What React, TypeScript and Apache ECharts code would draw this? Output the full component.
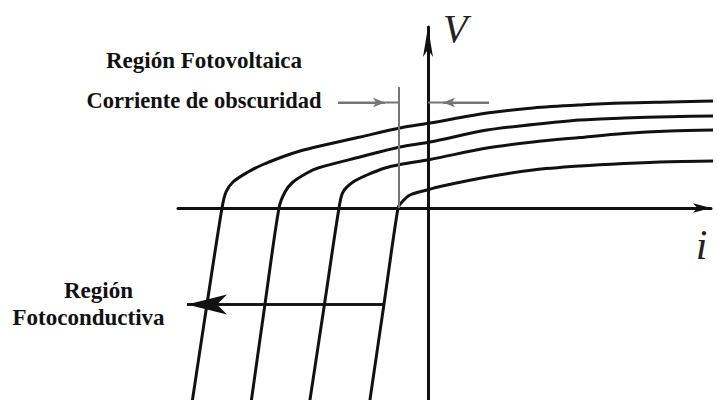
import { useEffect, useRef } from "react";
import * as echarts from "echarts";

// Photodiode i–V family of curves (arbitrary units: i horizontal, V vertical).
// Each curve: steep photoconductive branch below the i axis, knee, then the
// slowly rising photovoltaic branch.
const curveA: [number, number][] = [
  [-23.6, -19.5], [-22.1, -9.6], [-20.6, 0], [-20.2, 1.6], [-19.5, 2.6], [-18.0, 3.6],
  [-16.6, 4.3], [-14.6, 5.1], [-12.8, 5.7], [-10.8, 6.2], [-6.8, 7.1], [-2.8, 8.0],
  [0.2, 8.5], [5.9, 9.5], [10.5, 10.0], [15.2, 10.3], [19.6, 10.5], [24.2, 10.6], [28.9, 10.7],
];
const curveB: [number, number][] = [
  [-17.7, -19.5], [-16.3, -9.6], [-14.9, 0], [-14.3, 1.6], [-13.5, 2.6], [-12.1, 3.5],
  [-11.0, 4.0], [-6.8, 5.1], [-2.8, 6.1], [0.2, 6.6], [5.9, 7.8], [10.5, 8.35],
  [15.2, 8.8], [19.6, 9.0], [24.2, 9.13], [28.9, 9.2],
];
const curveC: [number, number][] = [
  [-11.85, -19.5], [-10.35, -9.6], [-8.9, 0], [-8.5, 1.6], [-7.5, 2.6], [-6.1, 3.3],
  [-4.3, 4.0], [-2.8, 4.35], [0.2, 4.85], [5.9, 6.0], [10.5, 6.6], [15.2, 7.05],
  [19.6, 7.45], [24.2, 7.7], [28.9, 7.8],
];
const curveD: [number, number][] = [
  [-5.85, -19.5], [-4.4, -9.6], [-3.0, 0], [-2.7, 0.5], [-1.8, 1.3], [-0.1, 1.8],
  [1.2, 2.15], [5.9, 3.1], [10.5, 3.8], [15.2, 4.2], [19.6, 4.45], [24.2, 4.63], [28.9, 4.7],
];

// Dark-current marker: vertical reference line and the two pointing arrows
const darkLine: [number, number][] = [[-2.9, 12.1], [-2.9, 0]];
const darkArrowLeft: [number, number][] = [[-9.0, 10.55], [-2.9, 10.55]];
const darkArrowLeftHead: [number, number] = [-4.3, 10.55];
const darkArrowRight: [number, number][] = [[6.1, 10.55], [0, 10.55]];
const darkArrowRightHead: [number, number] = [1.5, 10.55];

// Photoconductive-region arrow (tail, tip)
const photoArrow: [number, number][] = [[-4.5, -9.65], [-24.1, -9.65]];

// Axis ranges
const xRange: [number, number] = [-25, 28.3];
const yRange: [number, number] = [-19.2, 18.1];

const labelVoltaic = "Región Fotovoltaica";
const labelDark = "Corriente de obscuridad";
const labelConductive1 = "Región";
const labelConductive2 = "Fotoconductiva";
const axisNameV = "V";
const axisNameI = "i";

const INK = "#111";
const GREY = "#767676";
const SERIF = "Liberation Serif";

const curveSeries = (name: string, data: [number, number][]) => ({
  name,
  type: "line",
  data,
  smooth: 0.3,
  showSymbol: false,
  symbol: "none",
  clip: false,
  silent: true,
  lineStyle: { color: INK, width: 3 },
});

const arrowSeries = (
  name: string,
  data: [number, number][],
  head: [number, number],
  color: string,
  width: number,
  size: [number, number]
) => ({
  name,
  type: "line",
  data,
  symbol: "none",
  showSymbol: false,
  silent: true,
  clip: false,
  lineStyle: { color, width },
  markLine: {
    silent: true,
    symbol: ["none", "arrow"],
    symbolSize: size,
    label: { show: false },
    lineStyle: { color, width, type: "solid" },
    emphasis: { disabled: true },
    data: [[{ coord: data[0] }, { coord: head }]],
  },
});

const axisCommon = {
  type: "value",
  axisTick: { show: false },
  axisLabel: { show: false },
  splitLine: { show: false },
};

const boldLabel = (text: string, x: number, y: number, size: number) => ({
  type: "text",
  x,
  y,
  style: {
    text,
    fontFamily: SERIF,
    fontWeight: "bold",
    fontSize: size,
    fill: INK,
    align: "center",
    verticalAlign: "middle",
  },
});

const option = {
  animation: false,
  backgroundColor: "#fff",
  grid: { left: 178, right: 6, top: 27, bottom: 0 },
  xAxis: {
    ...axisCommon,
    min: xRange[0],
    max: xRange[1],
    axisLine: {
      onZero: true,
      symbol: ["none", "arrow"],
      symbolSize: [7, 18],
      lineStyle: { color: INK, width: 3 },
    },
  },
  yAxis: {
    ...axisCommon,
    min: yRange[0],
    max: yRange[1],
    axisLine: {
      onZero: true,
      symbol: ["none", "arrow"],
      symbolSize: [7.5, 30],
      lineStyle: { color: INK, width: 3 },
    },
  },
  series: [
    curveSeries("A", curveA),
    curveSeries("B", curveB),
    curveSeries("C", curveC),
    curveSeries("D", curveD),
    {
      name: "dark",
      type: "line",
      data: darkLine,
      symbol: "none",
      silent: true,
      lineStyle: { color: GREY, width: 2 },
    },
    arrowSeries("darkL", darkArrowLeft, darkArrowLeftHead, GREY, 2, [7, 12]),
    arrowSeries("darkR", darkArrowRight, darkArrowRightHead, GREY, 2, [7, 12]),
    arrowSeries("photo", photoArrow, photoArrow[1], INK, 2.5, [15, 40]),
  ],
  graphic: [
    boldLabel(labelVoltaic, 204, 60, 23),
    boldLabel(labelDark, 204, 100, 22.5),
    boldLabel(labelConductive1, 98.5, 290, 23),
    boldLabel(labelConductive2, 88.5, 317, 23),
    {
      type: "text",
      x: 443,
      y: 28.5,
      style: {
        text: axisNameV,
        fontFamily: SERIF,
        fontStyle: "italic",
        fontSize: 40,
        fill: "#222",
        align: "left",
        verticalAlign: "middle",
      },
    },
    {
      type: "text",
      x: 701.5,
      y: 244.5,
      style: {
        text: axisNameI,
        fontFamily: SERIF,
        fontStyle: "italic",
        fontSize: 42,
        fill: "#222",
        align: "center",
        verticalAlign: "middle",
      },
    },
  ],
};

export default function App() {
  const ref = useRef<HTMLDivElement>(null);
  useEffect(() => {
    if (!ref.current) return;
    const chart = echarts.init(ref.current, null, { renderer: "svg" });
    chart.setOption(option as any);
    return () => chart.dispose();
  }, []);
  return (
    <div
      ref={ref}
      style={{ position: "fixed", left: 0, top: 0, width: 717, height: 400, background: "#fff" }}
    />
  );
}
